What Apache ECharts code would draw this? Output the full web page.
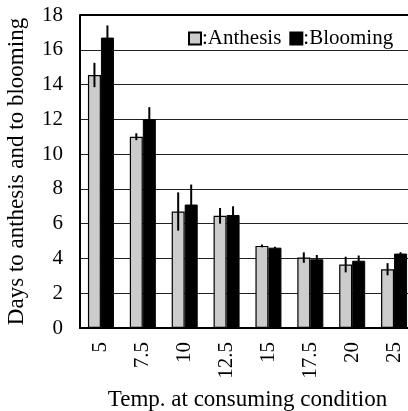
<!DOCTYPE html>
<html><head><meta charset="utf-8">
<script src="https://cdn.jsdelivr.net/npm/echarts@6/dist/echarts.min.js"></script>
<style>html,body{margin:0;padding:0;background:#fff}#c{width:408px;height:411px}</style>
</head><body><div id="c"></div>
<script>
const categories = ['5','7.5','10','12.5','15','17.5','20','25'];
const anthesis = [14.55, 11.0, 6.7, 6.45, 4.72, 4.05, 3.65, 3.38];
const blooming = [16.7, 12.0, 7.1, 6.5, 4.62, 3.95, 3.87, 4.28];
const anthesisErr = [0.7, 0.2, 1.1, 0.45, 0.08, 0.3, 0.45, 0.35];
const bloomingErr = [0.7, 0.7, 1.15, 0.5, 0.05, 0.25, 0.3, 0.08];
const yTicks = [0, 2, 4, 6, 8, 10, 12, 14, 16, 18];

const FONT = '"Liberation Serif", "Times New Roman", serif';
const BAR_W = 13;

function errSeries(vals, errs, offset) {
  return {
    type: 'custom',
    z: 5,
    silent: true,
    data: vals.map((v, i) => [i, v, errs[i]]),
    encode: { x: 0, y: 1 },
    renderItem: function (params, api) {
      const i = api.value(0), v = api.value(1), e = api.value(2);
      const top = api.coord([i, v + e]);
      const bot = api.coord([i, v - e]);
      const x = top[0] + offset;
      return {
        type: 'line',
        shape: { x1: x, y1: top[1], x2: x, y2: bot[1] },
        style: { stroke: '#000', lineWidth: 2 }
      };
    }
  };
}

const chart = echarts.init(document.getElementById('c'), null, { renderer: 'canvas' });
chart.setOption({
  animation: false,
  backgroundColor: '#fff',
  textStyle: { fontFamily: FONT, color: '#000' },
  grid: { left: 80, top: 15, width: 335, bottom: 83, containLabel: false, outerBoundsMode: 'none' },
  legend: {
    left: 183, top: 23,
    itemWidth: 12, itemHeight: 12, itemGap: 8,
    icon: 'rect',
    textStyle: { fontFamily: FONT, fontSize: 21, color: '#000', padding: [0, 0, 0, -4] },
    formatter: n => ':' + n,
    data: ['Anthesis', 'Blooming']
  },
  xAxis: {
    type: 'category',
    data: categories,
    name: 'Temp. at consuming condition',
    nameLocation: 'middle',
    nameGap: 60,
    nameTextStyle: { fontFamily: FONT, fontSize: 23, color: '#000' },
    axisLine: { lineStyle: { color: '#000', width: 2 } },
    axisTick: { inside: true, length: 5, lineStyle: { color: '#000' } },
    axisLabel: { rotate: 90, fontFamily: FONT, fontSize: 21, color: '#000', margin: 14 }
  },
  yAxis: {
    type: 'value',
    min: 0, max: 18, interval: 2,
    name: 'Days to anthesis and to blooming',
    nameLocation: 'middle',
    nameGap: 52,
    nameTextStyle: { fontFamily: FONT, fontSize: 23, color: '#000' },
    axisLine: { show: true, lineStyle: { color: '#000', width: 2 } },
    axisTick: { show: false },
    axisLabel: { fontFamily: FONT, fontSize: 21, color: '#000', margin: 17,
      formatter: v => yTicks.includes(v) ? String(v) : '' },
    splitLine: { lineStyle: { color: '#222', width: 1 } }
  },
  series: [
    { name: 'Anthesis', type: 'bar', data: anthesis, barWidth: BAR_W, barGap: '0%',
      itemStyle: { color: '#cccccc', borderColor: '#000', borderWidth: 1.2 } },
    { name: 'Blooming', type: 'bar', data: blooming, barWidth: BAR_W, barGap: '0%',
      itemStyle: { color: '#000', borderColor: '#000', borderWidth: 1 } },
    errSeries(anthesis, anthesisErr, -BAR_W / 2),
    errSeries(blooming, bloomingErr, BAR_W / 2)
  ],
  graphic: [{
    type: 'line', shape: { x1: 80, y1: 15, x2: 408, y2: 15 },
    style: { stroke: '#000', lineWidth: 2 }, z: 10
  }]
});
</script></body></html>
